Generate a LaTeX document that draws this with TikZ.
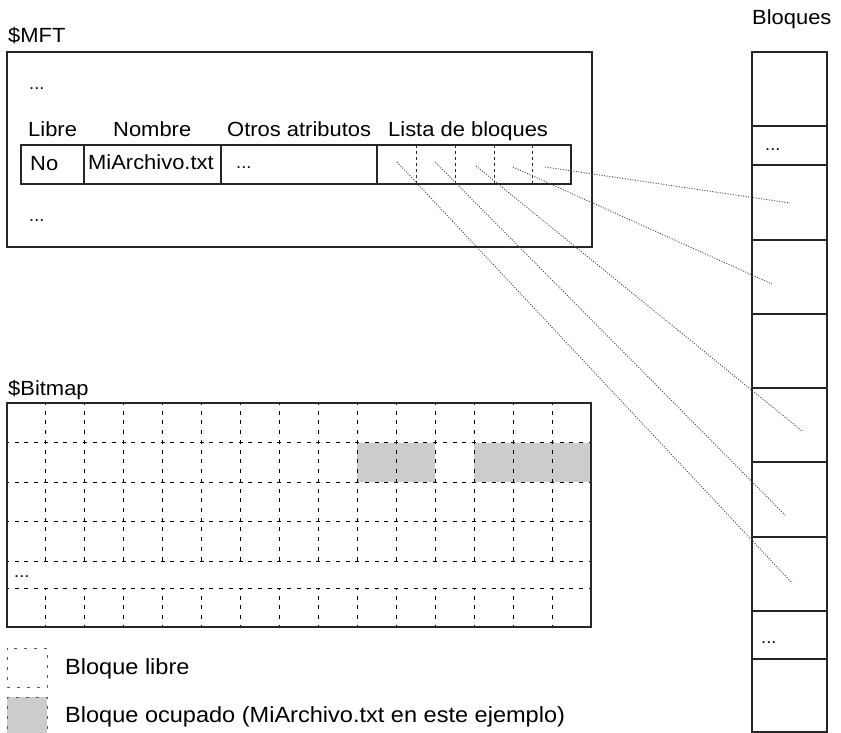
\documentclass[tikz,border=0pt]{standalone}
\usepackage{fontspec}
\setmainfont[FakeStretch=1.07]{Liberation Sans}
\begin{document}
\begin{tikzpicture}[x=1pt,y=-1pt,
  lbl/.style={anchor=base west,inner sep=0pt,font=\fontsize{20.5}{24}\selectfont},
  leg/.style={anchor=base west,inner sep=0pt,font=\fontsize{22}{26}\selectfont},
  dots/.style={anchor=base west,inner sep=0pt,font=\fontsize{17}{20}\selectfont},
  frame/.style={draw=black!85,line width=1.3pt},
  solidline/.style={draw=black!85,line width=1.2pt},
  celldash/.style={draw=black!85,line width=1pt,dash pattern=on 3pt off 3pt},
  gridline/.style={draw=black,line width=1pt,dash pattern=on 4pt off 5.73pt,dash phase=2pt},
  legdash/.style={draw=black!65,line width=1pt,dash pattern=on 3pt off 7pt,dash phase=1.5pt},
  used/.style={fill=gray!40,draw=none},
  link/.style={draw=black!75,line width=0.9pt,dash pattern=on 1pt off 1.6pt}]
\useasboundingbox (0,0) rectangle (841,733);

% ---------- $MFT table ----------
\node[lbl] (mftT) at (8,43) {\$MFT};
\draw[frame] (7,52) rectangle (592,247);
\node[dots] (mftTop) at (29,90) {...};
\node[dots] (mftBot) at (29,222) {...};
\node[lbl] (hLibre)  at (28,137)  {Libre};
\node[lbl] (hNombre) at (113,137) {Nombre};
\node[lbl] (hOtros)  at (227,137) {Otros atributos};
\node[lbl] (hLista)  at (388,137) {Lista de bloques};
% record row
\draw[solidline] (21,145) rectangle (571,184);
\foreach \x in {84,221,377} \draw[solidline] (\x,145) -- (\x,184);
\foreach \x in {416,455,494,532} \draw[celldash] (\x,145) -- (\x,184);
\node[lbl] (vNo)   at (30,171) {No};
\node[lbl] (vName) at (88,170) {MiArchivo.txt};
\node[dots] (vOtros) at (236,169) {...};

% ---------- Bloques column ----------
\node[lbl] (bT) at (752,25) {Bloques};
\draw[frame] (752,52) rectangle (827,732);
\foreach \y in {126,165,240,314,388,462,537,611,659}
  \draw[solidline] (752,\y) -- (827,\y);
\node[dots] (bTop) at (765,150) {...};
\node[dots] (bBot) at (761,643) {...};

% ---------- pointers from the block list to the blocks ----------
\coordinate (s1) at (397,162);
\coordinate (s2) at (435,162);
\coordinate (s3) at (476,166);
\coordinate (s4) at (513,167);
\coordinate (s5) at (545,167);
\coordinate (e1) at (792,583);
\coordinate (e2) at (786,516);
\coordinate (e3) at (802,431);
\coordinate (e4) at (772,284);
\coordinate (e5) at (790,203);
\foreach \i in {1,...,5} \draw[link] (s\i) -- (e\i);

% ---------- $Bitmap ----------
\node[lbl] (bmT) at (8,395) {\$Bitmap};
% occupied cells
\fill[used] (357.4,442.5) rectangle (435.3,482);
\fill[used] (474.2,442.5) rectangle (591,482);
% grid
\foreach \y in {442.5,482,521.5,561,588}
  \draw[gridline] (7,\y) -- (591,\y);
\foreach \k in {1,...,14}{
  \pgfmathsetmacro{\gx}{7+38.93*\k}
  \draw[gridline] (\gx,403) -- (\gx,561);
  \draw[gridline] (\gx,588) -- (\gx,627);
}
\draw[frame] (7,403) rectangle (591,627);
\node[dots] (bmDots) at (14,577) {...};

% ---------- legend ----------
\draw[legdash] (7,648) rectangle (47,687);
\fill[used] (7,697) rectangle (47,737);
\draw[legdash] (7,697) rectangle (47,737);
\node[leg] (lFree) at (65,674) {Bloque libre};
\node[leg] (lUsed) at (65,722) {Bloque ocupado (MiArchivo.txt en este ejemplo)};
\end{tikzpicture}
\end{document}
